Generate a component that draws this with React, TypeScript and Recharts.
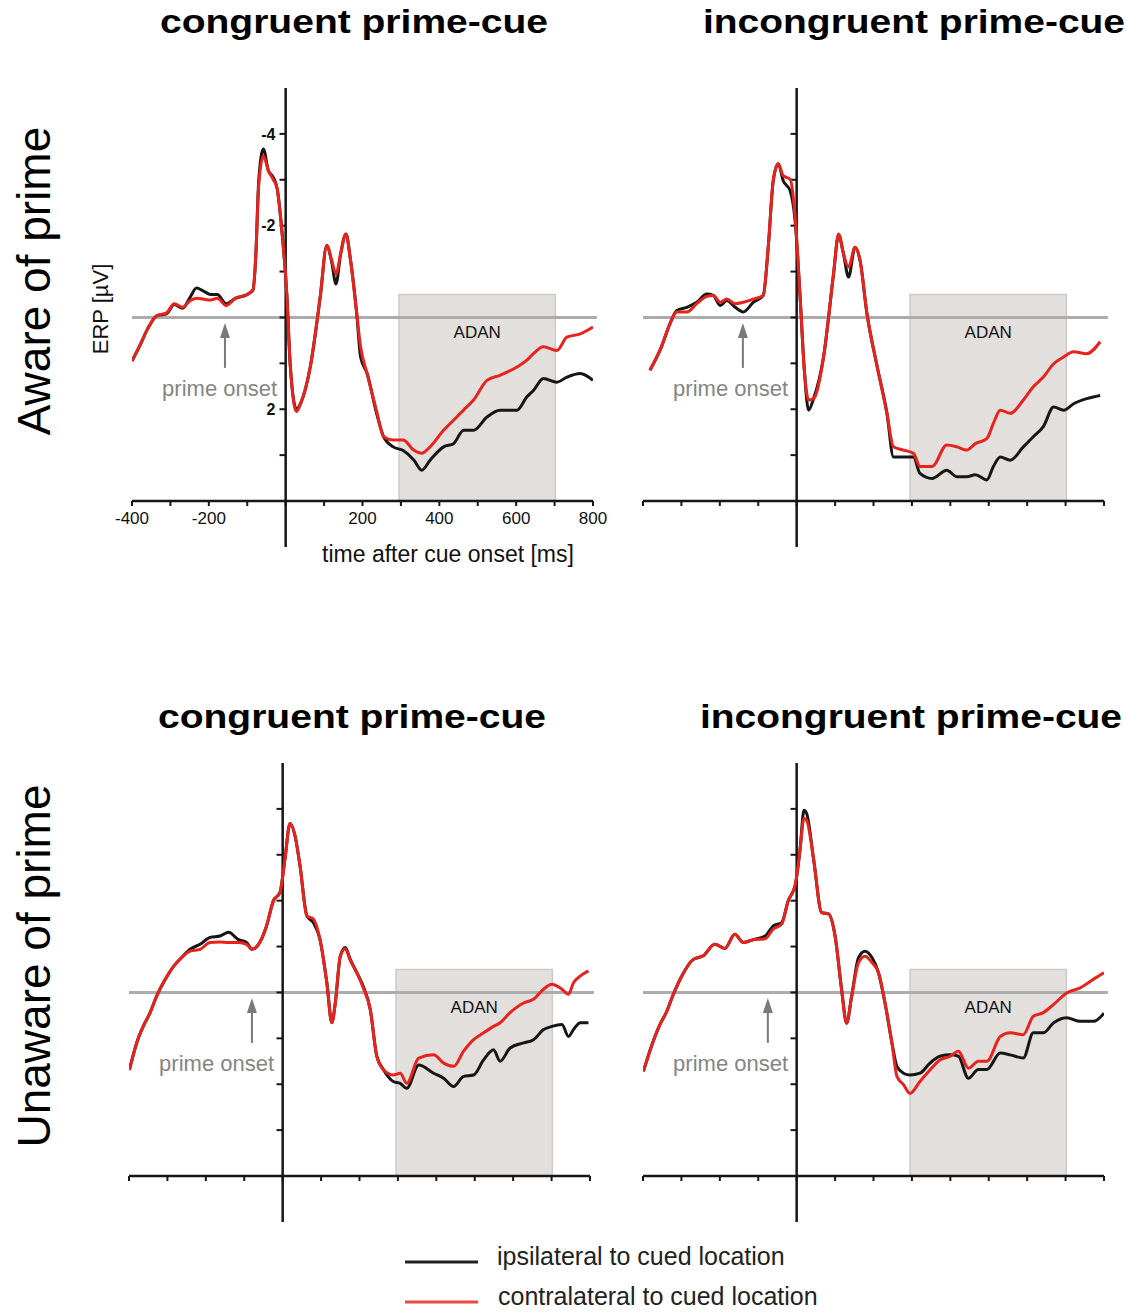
import React from 'react';
import { LineChart, Line, XAxis, YAxis, ReferenceLine, ReferenceArea, ReferenceDot } from 'recharts';

// time after cue onset [ms] and ERP amplitude [µV]
// top-left: aware of prime, congruent prime-cue
const timeAwareCong = [-400, -380, -360, -335, -310, -290, -268, -250, -232, -215, -195, -178, -155, -130, -100, -85, -78, -70, -58, -45, -32, -22, -10, 3, 12, 28, 40, 64, 90, 107, 120, 131, 143, 157, 168, 185, 195, 212, 237, 255, 280, 306, 333, 354, 376, 411, 437, 463, 489, 524, 558, 602, 628, 645, 671, 706, 732, 767, 800];
const ipsiAwareCong = [0.95, 0.62, 0.26, -0.04, -0.08, -0.28, -0.2, -0.42, -0.64, -0.58, -0.5, -0.5, -0.3, -0.42, -0.5, -0.6, -1.3, -3.0, -3.67, -3.2, -3.05, -2.8, -1.9, -0.5, 1.05, 2.0, 1.85, 1.08, -0.45, -1.57, -1.2, -0.73, -1.38, -1.82, -1.3, -0.08, 0.86, 1.22, 2.1, 2.6, 2.82, 2.9, 3.1, 3.33, 3.11, 2.82, 2.75, 2.46, 2.46, 2.17, 2.02, 2.02, 1.73, 1.59, 1.33, 1.41, 1.3, 1.22, 1.37];
const contraAwareCong = [0.95, 0.62, 0.26, -0.04, -0.1, -0.3, -0.22, -0.36, -0.42, -0.4, -0.38, -0.42, -0.26, -0.42, -0.5, -0.6, -1.3, -2.9, -3.52, -3.2, -3.0, -2.8, -1.9, -0.5, 1.05, 2.05, 1.85, 1.08, -0.45, -1.57, -1.24, -0.95, -1.38, -1.82, -1.3, -0.08, 0.64, 1.22, 2.05, 2.6, 2.67, 2.67, 2.89, 2.96, 2.82, 2.46, 2.24, 2.02, 1.8, 1.37, 1.26, 1.08, 0.93, 0.79, 0.64, 0.72, 0.43, 0.36, 0.21];

// top-right: aware of prime, incongruent prime-cue
const timeAwareIncong = [-382, -352, -330, -312, -286, -260, -234, -217, -199, -182, -160, -139, -113, -87, -74, -61, -48, -35, -17, -4, 9, 20, 31, 44, 70, 96, 109, 122, 135, 152, 165, 183, 208, 235, 252, 278, 304, 321, 352, 391, 417, 443, 465, 495, 512, 530, 556, 590, 616, 642, 669, 695, 721, 755, 790];
const ipsiAwareIncong = [1.15, 0.64, 0.14, -0.15, -0.22, -0.33, -0.51, -0.48, -0.26, -0.37, -0.22, -0.12, -0.33, -0.48, -1.53, -2.98, -3.35, -2.98, -2.76, -2.1, -0.44, 1.15, 2.02, 1.77, 0.86, -0.95, -1.8, -1.38, -0.88, -1.53, -1.24, -0.08, 1.01, 2.09, 3.04, 3.04, 3.04, 3.4, 3.51, 3.33, 3.47, 3.47, 3.43, 3.54, 3.25, 3.04, 3.11, 2.82, 2.6, 2.38, 1.95, 2.02, 1.88, 1.77, 1.7];
const contraAwareIncong = [1.15, 0.64, 0.14, -0.12, -0.12, -0.3, -0.46, -0.48, -0.33, -0.4, -0.3, -0.33, -0.4, -0.48, -1.53, -2.98, -3.35, -3.09, -3.01, -2.2, -0.44, 1.15, 1.8, 1.77, 0.86, -0.95, -1.82, -1.38, -1.1, -1.53, -1.24, -0.08, 1.01, 2.09, 2.82, 2.89, 2.96, 3.25, 3.25, 2.78, 2.82, 2.89, 2.75, 2.64, 2.31, 2.02, 2.09, 1.8, 1.51, 1.3, 1.01, 0.86, 0.75, 0.79, 0.53];

// bottom-left: unaware of prime, congruent prime-cue
const timeUnawareCong = [-399, -380, -363, -345, -328, -306, -284, -263, -241, -215, -189, -163, -141, -115, -94, -80, -59, -42, -24, -7, 6, 19, 32, 45, 63, 80, 97, 115, 128, 137, 150, 163, 176, 193, 210, 228, 245, 262, 288, 306, 323, 354, 393, 419, 445, 471, 497, 523, 549, 566, 592, 627, 653, 679, 701, 727, 744, 757, 775, 796];
const ipsiUnawareCong = [1.69, 1.1, 0.74, 0.44, 0.08, -0.28, -0.57, -0.76, -0.94, -1.05, -1.2, -1.23, -1.31, -1.15, -1.09, -0.94, -1.1, -1.45, -2.0, -2.18, -2.91, -3.68, -3.42, -2.77, -1.67, -1.52, -1.16, -0.21, 0.66, 0.23, -0.79, -0.98, -0.72, -0.43, -0.13, 0.37, 1.39, 1.68, 1.94, 1.98, 2.09, 1.58, 1.76, 1.87, 2.05, 1.83, 1.8, 1.47, 1.25, 1.5, 1.21, 1.1, 1.03, 0.81, 0.74, 0.7, 0.96, 0.81, 0.66, 0.66];
const contraUnawareCong = [1.69, 1.1, 0.74, 0.44, 0.08, -0.28, -0.57, -0.76, -0.9, -0.94, -1.09, -1.1, -1.09, -1.09, -1.05, -0.94, -1.1, -1.45, -2.0, -2.18, -2.91, -3.68, -3.42, -2.77, -1.67, -1.6, -1.16, -0.21, 0.66, 0.23, -0.79, -0.95, -0.7, -0.43, -0.1, 0.37, 1.39, 1.68, 1.8, 1.76, 1.98, 1.43, 1.36, 1.54, 1.61, 1.28, 1.03, 0.88, 0.74, 0.66, 0.44, 0.23, 0.15, -0.07, -0.18, -0.07, 0.04, -0.21, -0.36, -0.47];

// bottom-right: unaware of prime, incongruent prime-cue
const timeUnawareIncong = [-399, -378, -356, -338, -321, -299, -269, -243, -213, -187, -161, -139, -113, -82, -61, -39, -22, -4, 9, 19, 26, 44, 65, 83, 100, 117, 130, 143, 161, 178, 196, 213, 230, 248, 261, 278, 295, 321, 347, 373, 400, 421, 447, 473, 495, 530, 556, 590, 616, 642, 669, 703, 738, 773, 800];
const ipsiUnawareIncong = [1.72, 1.17, 0.7, 0.41, 0.04, -0.36, -0.72, -0.8, -1.05, -0.96, -1.27, -1.09, -1.15, -1.23, -1.45, -1.52, -2.0, -2.33, -3.13, -3.97, -3.9, -2.91, -1.74, -1.71, -1.23, -0.06, 0.67, 0.09, -0.76, -0.9, -0.76, -0.43, 0.23, 1.1, 1.61, 1.76, 1.8, 1.76, 1.54, 1.39, 1.36, 1.39, 1.87, 1.68, 1.68, 1.32, 1.36, 1.43, 0.88, 0.88, 0.66, 0.55, 0.63, 0.63, 0.45];
const contraUnawareIncong = [1.72, 1.17, 0.7, 0.41, 0.04, -0.36, -0.72, -0.8, -1.05, -0.96, -1.27, -1.09, -1.15, -1.17, -1.38, -1.49, -2.0, -2.33, -3.13, -3.79, -3.75, -2.91, -1.74, -1.71, -1.23, -0.06, 0.67, 0.09, -0.65, -0.79, -0.65, -0.43, 0.23, 1.1, 1.83, 2.01, 2.2, 1.94, 1.69, 1.47, 1.39, 1.28, 1.65, 1.5, 1.5, 0.96, 0.88, 0.92, 0.52, 0.44, 0.26, 0.01, -0.1, -0.29, -0.43];

const xTicks = [-400, -300, -200, -100, 0, 100, 200, 300, 400, 500, 600, 700, 800];
const xTickLabels = [-400, -200, 200, 400, 600, 800];
const yTicks = [-4, -3, -2, -1, 0, 1, 2, 3];
const yTickLabels = [-4, -2, 2];

const FONT = '"Liberation Sans", Arial, sans-serif';
const BLACK = '#161616';
const RED = '#e8231d';

const toRows = (t: number[], ipsi: number[], contra: number[]) =>
  t.map((time, i) => ({ time, ipsi: ipsi[i], contra: contra[i] }));

const arrowHead = (p: any) => (
  <polygon points={`${p.cx},${p.cy} ${p.cx - 5},${p.cy + 15} ${p.cx + 5},${p.cy + 15}`} fill="#7a7a7a" />
);

const primeText = (p: any) => (
  <text x={p.cx} y={p.cy} textAnchor="middle" dominantBaseline="central" fontSize={22} fill="#858585" fontFamily={FONT}>
    prime onset
  </text>
);

interface PanelProps {
  data: any[];
  left: number;
  top: number;
  arrowAt: number;
  labels?: boolean;
}

function Panel({ data, left, top, arrowAt, labels = false }: PanelProps) {
  return (
    <div style={{ position: 'absolute', left, top }}>
      <LineChart width={521} height={488} data={data} margin={{ top: 10, right: 20, bottom: 5, left: 40 }}>
        <XAxis
          dataKey="time"
          type="number"
          domain={[-400, 800]}
          ticks={xTicks}
          interval={0}
          allowDataOverflow
          height={60}
          axisLine={{ stroke: BLACK, strokeWidth: 2.5 }}
          tickLine={{ stroke: BLACK, strokeWidth: 2 }}
          tickSize={5}
          tickMargin={6}
          tick={{ fill: '#111', fontSize: 17, fontFamily: FONT }}
          tickFormatter={(v: number) => (labels && xTickLabels.includes(v) ? String(v) : '')}
        />
        <YAxis hide type="number" domain={[-5, 4]} reversed allowDataOverflow />
        <ReferenceArea
          x1={295} x2={702} y1={-0.5} y2={4}
          fill="#e2dfdc" fillOpacity={1} stroke="#cdcbc9" strokeWidth={1.5}
          label={{ value: 'ADAN', position: 'insideTop', offset: 31, fill: '#111', fontSize: 17, fontFamily: FONT }}
        />
        <ReferenceLine segment={[{ x: -400, y: 0 }, { x: 810, y: 0 }]} stroke="#acacac" strokeWidth={3} ifOverflow="visible" />
        <ReferenceLine segment={[{ x: 0, y: -5 }, { x: 0, y: 5 }]} stroke={BLACK} strokeWidth={2.5} ifOverflow="visible" />
        {yTicks.map((v) => (
          <ReferenceLine
            key={v}
            segment={[{ x: -16, y: v }, { x: 0, y: v }]}
            stroke={BLACK}
            strokeWidth={2}
            label={labels && yTickLabels.includes(v)
              ? { value: String(v), position: 'left', offset: 4, fontSize: 16, fontWeight: 'bold', fill: '#111', fontFamily: FONT }
              : undefined}
          />
        ))}
        <ReferenceLine segment={[{ x: arrowAt, y: 1.1 }, { x: arrowAt, y: 0.4 }]} stroke="#7a7a7a" strokeWidth={2} />
        <ReferenceDot x={arrowAt} y={0.12} shape={arrowHead} />
        <ReferenceDot x={-172} y={1.55} shape={primeText} />
        <Line type="monotone" dataKey="ipsi" stroke={BLACK} strokeWidth={3} dot={false} isAnimationActive={false} />
        <Line type="monotone" dataKey="contra" stroke={RED} strokeWidth={3} dot={false} isAnimationActive={false} />
      </LineChart>
    </div>
  );
}

export default function App() {
  return (
    <div style={{ position: 'absolute', left: 0, top: 0, width: 1128, height: 1314, background: '#fff', fontFamily: FONT }}>
      <Panel data={toRows(timeAwareCong, ipsiAwareCong, contraAwareCong)} left={92} top={78} arrowAt={-158} labels />
      <Panel data={toRows(timeAwareIncong, ipsiAwareIncong, contraAwareIncong)} left={603} top={78} arrowAt={-140} />
      <Panel data={toRows(timeUnawareCong, ipsiUnawareCong, contraUnawareCong)} left={89} top={753} arrowAt={-80} />
      <Panel data={toRows(timeUnawareIncong, ipsiUnawareIncong, contraUnawareIncong)} left={603} top={753} arrowAt={-75} />

      <svg width={1128} height={1314} style={{ position: 'absolute', left: 0, top: 0, pointerEvents: 'none' }} fontFamily={FONT}>
        <text x={160} y={33} fontSize={34} fontWeight="bold" fill="#000" textLength={388} lengthAdjust="spacingAndGlyphs">congruent prime-cue</text>
        <text x={703} y={33} fontSize={34} fontWeight="bold" fill="#000" textLength={422} lengthAdjust="spacingAndGlyphs">incongruent prime-cue</text>
        <text x={158} y={728} fontSize={34} fontWeight="bold" fill="#000" textLength={388} lengthAdjust="spacingAndGlyphs">congruent prime-cue</text>
        <text x={700} y={728} fontSize={34} fontWeight="bold" fill="#000" textLength={422} lengthAdjust="spacingAndGlyphs">incongruent prime-cue</text>

        <text transform="translate(50,281) rotate(-90)" textAnchor="middle" fontSize={46} fill="#000">Aware of prime</text>
        <text transform="translate(50,966) rotate(-90)" textAnchor="middle" fontSize={46} fill="#000">Unaware of prime</text>

        <text transform="translate(108,309) rotate(-90)" textAnchor="middle" fontSize={22} fill="#111">ERP [µV]</text>
        <text x={448} y={562} textAnchor="middle" fontSize={23} fill="#111">time after cue onset [ms]</text>

        <line x1={405} y1={1262} x2={478} y2={1262} stroke="#222" strokeWidth={3} />
        <text x={497} y={1265} fontSize={25} fill="#222">ipsilateral to cued location</text>
        <line x1={405} y1={1302} x2={478} y2={1302} stroke="#e84a47" strokeWidth={3} />
        <text x={498} y={1305} fontSize={25} fill="#222">contralateral to cued location</text>
      </svg>
    </div>
  );
}
